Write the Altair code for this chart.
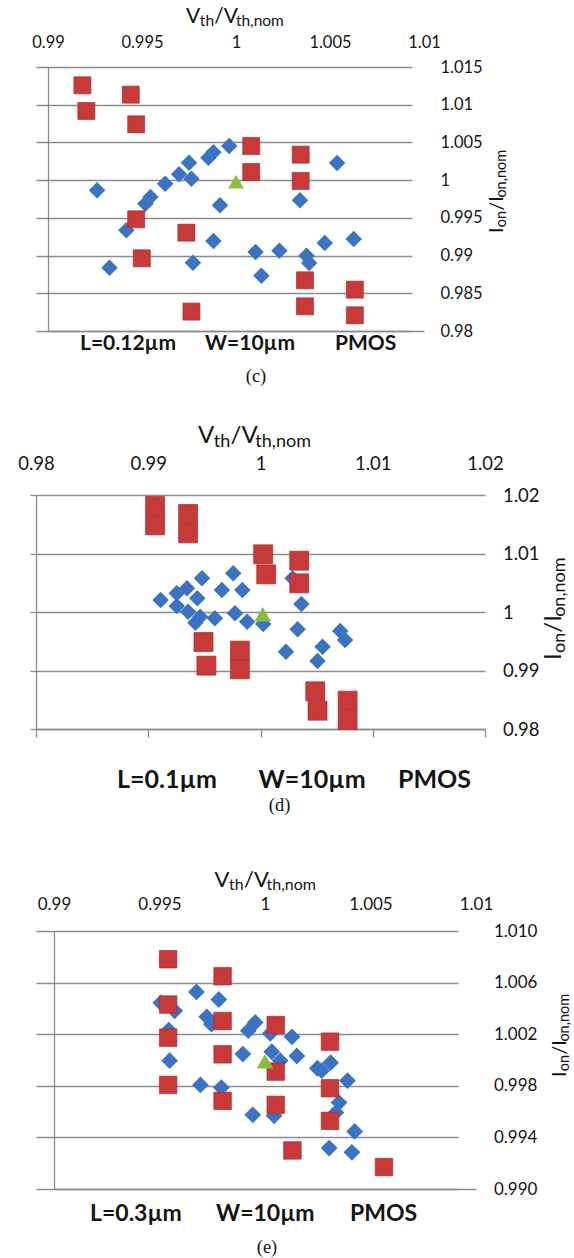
import altair as alt
import pandas as pd

FONT = "Lato"
SERIF = "Liberation Serif"
BLUE = "#3b73c3"
RED = "#c8393a"
RED_EDGE = "#a82f2f"
GREEN = "#8dbb3e"
GRID = "#8c8c8c"
INK = "#141414"
X0 = 36  # common left offset of the panel origins

# ---------------- panel (c): L=0.12um ----------------
c_blue_x = [0.99261, 0.99327, 0.99417, 0.99518, 0.99545, 0.99623, 0.99697, 0.99750,
            0.99763, 0.99853, 0.99880, 0.99964, 0.99915, 0.99880, 0.99771, 1.00104,
            1.00135, 1.00231, 1.00340, 1.00375, 1.00389, 1.00472, 1.00538, 1.00626]
c_blue_y = [0.99865, 0.98840, 0.99335, 0.99688, 0.99777, 0.99953, 1.00077, 1.00232,
            1.00020, 1.00298, 1.00369, 1.00453, 0.99666, 0.99193, 0.98906, 0.99048,
            0.98734, 0.99065, 0.99732, 0.98999, 0.98902, 0.99167, 1.00227, 0.99220]
c_red_x = [0.99183, 0.99204, 0.99440, 0.99469, 1.00081, 1.00081, 1.00344, 1.00344,
           0.99469, 0.99736, 0.99499, 0.99763, 1.00367, 1.00367, 1.00632, 1.00632]
c_red_y = [1.01257, 1.00917, 1.01133, 1.00740, 1.00453, 1.00108, 1.00338, 0.99989,
           0.99481, 0.99304, 0.98964, 0.98257, 0.98672, 0.98327, 0.98548, 0.98208]
c_green_x = [1.0]
c_green_y = [0.9998]
c_xticks = [0.99, 0.995, 1.0, 1.005, 1.01]
c_yticks = [0.98, 0.985, 0.99, 0.995, 1.0, 1.005, 1.01, 1.015]

# ---------------- panel (d): L=0.1um ----------------
d_blue_x = [0.99110, 0.99254, 0.99254, 0.99345, 0.99437, 0.99479, 0.99355, 0.99463,
            0.99420, 0.99593, 0.99656, 0.99757, 0.99838, 0.99773, 0.99881, 1.00024,
            1.00286, 1.00364, 1.00331, 1.00227, 1.00553, 1.00508, 1.00710, 1.00753]
d_blue_y = [1.00205, 1.00319, 1.00103, 1.00405, 1.00234, 1.00575, 1.00006, 0.99920,
            0.99818, 0.99892, 1.00376, 1.00661, 1.00376, 0.99977, 0.99835, 0.99795,
            1.00575, 1.00137, 0.99704, 0.99322, 0.99407, 0.99162, 0.99675, 0.99521]
d_red_x = [0.99061, 0.99061, 0.99355, 0.99355, 1.00024, 1.00051, 1.00345, 1.00345,
           0.99492, 0.99518, 0.99816, 0.99816, 1.00488, 1.00508, 1.00776, 1.00776]
d_red_y = [1.01812, 1.01481, 1.01675, 1.01345, 1.00986, 1.00644, 1.00877, 1.00490,
           0.99487, 0.99083, 0.99339, 0.99020, 0.98644, 0.98313, 0.98484, 0.98154]
d_green_x = [1.0002]
d_green_y = [0.9996]
d_xticks = [0.98, 0.99, 1.0, 1.01, 1.02]
d_yticks = [0.98, 0.99, 1.0, 1.01, 1.02]

# ---------------- panel (e): L=0.3um ----------------
e_blue_x = [0.99506, 0.99572, 0.99544, 0.99548, 0.99675, 0.99781, 0.99724, 0.99746,
            0.99694, 0.99793, 0.99921, 0.99954, 0.99895, 1.00025, 1.00032, 1.00072,
            1.00128, 1.00151, 0.99942, 1.00043, 1.00248, 1.00269, 1.00311, 1.00391,
            1.00351, 1.00336, 1.00425, 1.00304, 1.00412]
e_blue_y = [1.00443, 1.00381, 1.00232, 0.99995, 1.00528, 1.00469, 1.00335, 1.00278,
            0.99807, 0.99786, 1.00227, 1.00291, 1.00046, 1.00206, 1.00064, 0.99995,
            1.00180, 1.00031, 0.99575, 0.99567, 0.99936, 0.99918, 0.99979, 0.99840,
            0.99670, 0.99593, 0.99446, 0.99317, 0.99284]
e_red_x = [0.99541, 0.99799, 0.99541, 0.99799, 0.99541, 0.99799, 0.99541, 0.99799,
           1.00051, 1.00051, 1.00051, 1.00130, 1.00308, 1.00308, 1.00308, 1.00564]
e_red_y = [1.00781, 1.00649, 1.00430, 1.00302, 1.00173, 1.00044, 0.99807, 0.99683,
           1.00271, 0.99910, 0.99652, 0.99299, 1.00142, 0.99781, 0.99528, 0.99170]
e_green_x = [1.0]
e_green_y = [0.9999]
e_xticks = [0.99, 0.995, 1.0, 1.005, 1.01]
e_yticks = [0.990, 0.994, 0.998, 1.002, 1.006, 1.010]

# rough advance widths (em) used to chain the subscript pieces of the axis titles
EM = {"V": 0.66, "t": 0.37, "h": 0.56, "/": 0.37, ",": 0.22, "n": 0.56,
      "o": 0.57, "m": 0.84, "I": 0.29}


def em_width(s, size):
    return sum(EM.get(ch, 0.55) for ch in s) * size


def text_layer(s, x, y, size, font=FONT, weight="normal", angle=0,
               align="left", baseline="alphabetic"):
    return alt.Chart(alt.Data(values=[{}])).mark_text(
        text=s, font=font, fontSize=size, fontWeight=weight, angle=angle,
        align=align, baseline=baseline, color=INK
    ).encode(x=alt.value(x), y=alt.value(y))


def x_title(x0, yb, main, sub):
    out, x = [], x0
    for s, size, is_sub in [("V", main, 0), ("th", sub, 1), ("/V", main, 0), ("th,nom", sub, 1)]:
        out.append(text_layer(s, x, yb + (0.17 * main if is_sub else 0), size))
        x += em_width(s, size)
    return out


def y_title(xb, y0, main, sub):
    out, y = [], y0
    for s, size, is_sub in [("I", main, 0), ("on", sub, 1), ("/I", main, 0), ("on,nom", sub, 1)]:
        out.append(text_layer(s, xb + (0.17 * main if is_sub else 0), y, size, angle=270))
        y -= em_width(s, size)
    return out


def panel(bx, by, rx, ry, gx, gy, xdom, ydom, xrange_, W, H, xticks, yticks, yfmt,
          fs, top_pad, right_pad, framed_ticks, sizes, T, Hb, xt, yt, bottom, caption):
    xs = alt.Scale(domain=xdom, range=xrange_, zero=False, nice=False)
    ys = alt.Scale(domain=ydom, zero=False, nice=False)
    top_axis = alt.Axis(orient="top", values=xticks, format="~g", grid=False, domain=False,
                        ticks=False, tickSize=0, labelPadding=top_pad, labelBaseline="alphabetic",
                        labelFont=FONT, labelFontSize=fs, labelColor=INK, labelFlush=False,
                        labelOverlap=False, title=None)
    right_axis = alt.Axis(orient="right", values=yticks, format=yfmt, grid=True, gridColor=GRID,
                          gridWidth=1.3, domain=False, ticks=False, tickSize=0,
                          labelPadding=right_pad, labelFont=FONT, labelFontSize=fs,
                          labelColor=INK, labelFlush=False, labelOverlap=False, title=None)
    if framed_ticks:
        bottom_axis = alt.Axis(orient="bottom", values=xticks, grid=False, domain=True,
                               domainColor=GRID, domainWidth=1.3, ticks=True, tickColor=GRID,
                               tickWidth=1.3, tickSize=8, labels=False, title=None)
        left_axis = alt.Axis(orient="left", values=yticks, grid=False, domain=True,
                             domainColor=GRID, domainWidth=1.3, ticks=True, tickColor=GRID,
                             tickWidth=1.3, tickSize=6, labels=False, title=None)
    else:
        bottom_axis = alt.Axis(orient="bottom", values=[xdom[0]], grid=True, gridColor=GRID,
                               gridWidth=1.3, domain=True, domainColor=GRID, domainWidth=1.3,
                               ticks=False, labels=False, title=None)
        left_axis = None

    blue = alt.Chart(pd.DataFrame({"v": bx, "i": by})).mark_point(
        shape="diamond", filled=True, color=BLUE, size=sizes[0], opacity=1
    ).encode(x=alt.X("v:Q", scale=xs, axis=top_axis), y=alt.Y("i:Q", scale=ys, axis=right_axis))
    red = alt.Chart(pd.DataFrame({"v": rx, "i": ry})).mark_point(
        shape="square", filled=True, color=RED, stroke=RED_EDGE, strokeWidth=0.7,
        size=sizes[1], opacity=1
    ).encode(x=alt.X("v:Q", scale=xs, axis=bottom_axis), y=alt.Y("i:Q", scale=ys, axis=left_axis))
    green = alt.Chart(pd.DataFrame({"v": gx, "i": gy})).mark_point(
        shape="triangle-up", filled=True, color=GREEN, size=sizes[2], opacity=1
    ).encode(x=alt.X("v:Q", scale=xs, axis=None), y=alt.Y("i:Q", scale=ys, axis=None))

    texts = x_title(*xt) + y_title(*yt)
    (bx0, bx1, bx2, by_, bsize, labels) = bottom
    for s, x in zip(labels, [bx0, bx1, bx2]):
        texts.append(text_layer(s, x, by_, bsize, weight="bold", baseline="middle"))
    cx, cy, ctext = caption
    texts.append(text_layer(ctext, cx, cy, 18.5, font=SERIF, align="center", baseline="middle"))

    spacer = alt.Chart(alt.Data(values=[{}])).mark_rule(opacity=0, strokeWidth=1).encode(
        x=alt.value(-X0), y=alt.value(-T), y2=alt.value(Hb))

    return alt.layer(blue, red, green, *texts, spacer).resolve_axis(
        x="independent", y="independent").properties(width=W, height=H)


pc = panel(c_blue_x, c_blue_y, c_red_x, c_red_y, c_green_x, c_green_y,
           [0.99, 1.01], [0.98, 1.015], [12, 388], 388, 264, c_xticks, c_yticks, "~g",
           16.5, 20, 16, False, (272, 289, 250), 67, 343,
           (150, -44.3, 21, 15.5), (467, 166, 20, 14.5),
           (44, 169, 299, 277, 21, ["L=0.12µm", "W=10µm", "PMOS"]), (220, 309, "(c)"))

pdd = panel(d_blue_x, d_blue_y, d_red_x, d_red_y, d_green_x, d_green_y,
            [0.98, 1.02], [0.98, 1.02], [0, 449], 449, 234, d_xticks, d_yticks, "~g",
            18.5, 25.5, 17.5, True, (272, 361, 280), 85, 355,
            (162, -51.7, 24, 18), (525, 165, 24, 18),
            (81, 222.5, 362, 284.5, 25, ["L=0.1µm", "W=10µm", "PMOS"]), (243.5, 309.5, "(d)"))

pe = panel(e_blue_x, e_blue_y, e_red_x, e_red_y, e_green_x, e_green_y,
           [0.99, 1.01], [0.99, 1.01], [18, 440], 440, 258, e_xticks, e_yticks, ".3f",
           17, 22, 17.5, False, (282, 306, 280), 81, 326,
           (178.5, -44.3, 22, 16), (530, 146, 20, 14.5),
           (54, 180, 314, 283, 23, ["L=0.3µm", "W=10µm", "PMOS"]), (231, 316, "(e)"))

chart = alt.vconcat(pc, pdd, pe, spacing=0).properties(
    padding=0, background="white"
).configure_view(stroke=None)

chart.save("out.html", embed_options={"renderer": "svg", "actions": False})
